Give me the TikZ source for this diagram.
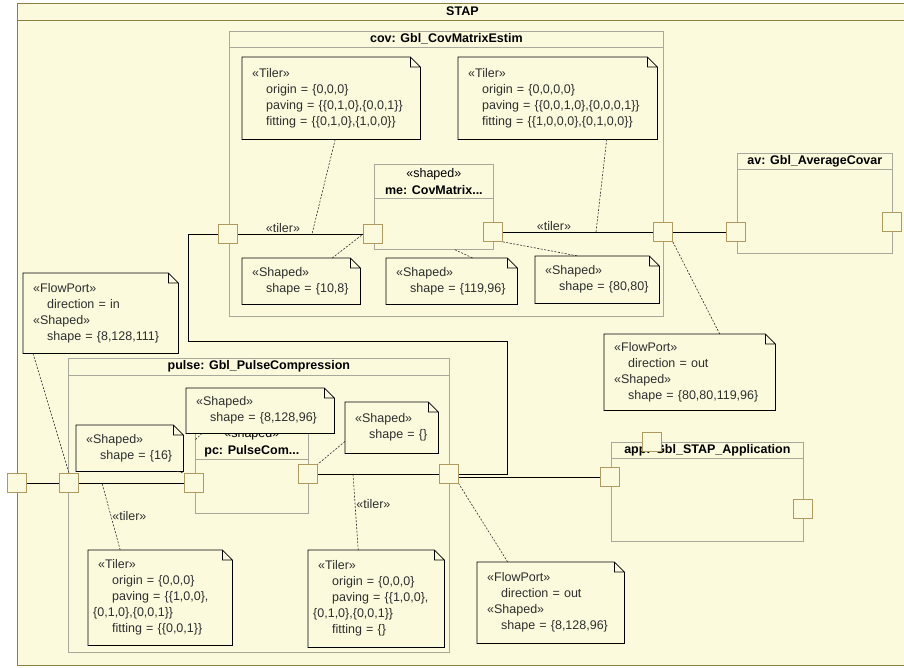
\documentclass[tikz,border=0pt]{standalone}
\usepackage{fontspec}
\setmainfont{Liberation Sans}

\definecolor{StapFill}{HTML}{FCFADD}
\definecolor{StapFrame}{HTML}{8F7F3E}
\definecolor{PartLine}{HTML}{A8A89C}
\definecolor{PortLine}{HTML}{B09A5E}
\definecolor{NoteText}{HTML}{2E2E2E}

\tikzstyle{part}=[rectangle, draw=PartLine, line width=0.7pt, anchor=north west, inner sep=0pt]
\tikzstyle{part-title}=[font=\fontsize{12.5}{16}\selectfont\bfseries, inner sep=0pt]
\tikzstyle{port}=[rectangle, draw=PortLine, fill=StapFill, line width=0.7pt, minimum size=19pt, inner sep=0pt]
\tikzstyle{notebox}=[rectangle, fill=StapFill, anchor=north west, align=left, inner xsep=10pt, inner ysep=0pt, text=NoteText]
\tikzstyle{wire}=[black, line width=0.9pt]
\tikzstyle{anchorline}=[NoteText, line width=0.6pt, dash pattern=on 2pt off 1.5pt]
\tikzstyle{stereo}=[text=NoteText, inner sep=1pt]

\newcommand{\attr}{\hspace*{14pt}}

\begin{document}
\begin{tikzpicture}[x=1pt, y=-1pt, font=\fontsize{12.5}{16}\selectfont]
  \useasboundingbox (0,0) rectangle (904,667);

  % STAP frame
  \node (stap) at (17,3) [part, draw=StapFrame, fill=StapFill, line width=0.8pt, minimum width=890pt, minimum height=662pt] {};
  \node (stap-title) at ([yshift=-8.5pt]stap.north) [part-title] {STAP};
  \draw[StapFrame, line width=0.8pt] ([yshift=-17pt]stap.north west) -- ([yshift=-17pt]stap.north east);

  % parts
  \node (cov) at (229,31) [part, minimum width=434pt, minimum height=285pt] {};
  \node (cov-title) at ([yshift=-8pt]cov.north) [part-title] {cov: Gbl\_CovMatrixEstim};
  \draw[PartLine, line width=0.7pt] ([yshift=-16pt]cov.north west) -- ([yshift=-16pt]cov.north east);

  \node (me) at (374,164) [part, minimum width=119pt, minimum height=85pt] {};
  \node (me-title) at ([yshift=-17.5pt]me.north) [align=center, inner sep=0pt] {«shaped»\\[1pt]\textbf{me: CovMatrix...}};
  \draw[PartLine, line width=0.7pt] ([yshift=-34pt]me.north west) -- ([yshift=-34pt]me.north east);

  \node (av) at (737,153) [part, minimum width=155pt, minimum height=100pt] {};
  \node (av-title) at ([yshift=-8pt]av.north) [part-title] {av: Gbl\_AverageCovar};
  \draw[PartLine, line width=0.7pt] ([yshift=-16pt]av.north west) -- ([yshift=-16pt]av.north east);

  \node (pulse) at (68,358) [part, minimum width=381pt, minimum height=294pt] {};
  \node (pulse-title) at ([yshift=-8.5pt]pulse.north) [part-title] {pulse: Gbl\_PulseCompression};
  \draw[PartLine, line width=0.7pt] ([yshift=-17pt]pulse.north west) -- ([yshift=-17pt]pulse.north east);

  \node (pc) at (195,422) [part, minimum width=113pt, minimum height=91pt] {};
  \node (pc-title) at ([yshift=-20.5pt]pc.north) [align=center, inner sep=0pt] {«shaped»\\[1pt]\textbf{pc: PulseCom...}};
  \draw[PartLine, line width=0.7pt] ([yshift=-37pt]pc.north west) -- ([yshift=-37pt]pc.north east);

  \node (app) at (611,442) [part, minimum width=192pt, minimum height=99pt] {};
  \node (app-title) at ([yshift=-8pt]app.north) [part-title] {app: Gbl\_STAP\_Application};
  \draw[PartLine, line width=0.7pt] ([yshift=-16pt]app.north west) -- ([yshift=-16pt]app.north east);

  % ports
  \node (port-cov-in) at (228,234) [port] {};
  \node (port-me-in) at (373,234) [port] {};
  \node (port-me-out) at (493,232) [port] {};
  \node (port-cov-out) at (663,232) [port] {};
  \node (port-av-in) at (736,232) [port] {};
  \node (port-av-out) at (892,222) [port] {};
  \node (port-stap-in) at (17,483) [port] {};
  \node (port-pulse-in) at (69,483) [port] {};
  \node (port-pc-in) at (194,483) [port] {};
  \node (port-pc-out) at (308,474) [port] {};
  \node (port-pulse-out) at (449,474) [port] {};
  \node (port-app-in) at (610,477) [port] {};
  \node (port-app-top) at (652,442) [port] {};
  \node (port-app-out) at (803,509) [port] {};

  % connectors
  \coordinate (route-se) at (507,474);
  \coordinate (route-nw) at (188,341);
  \draw[wire] (port-stap-in.east) -- (port-pulse-in.west);
  \draw[wire] (port-pulse-in.east) -- (port-pc-in.west);
  \draw[wire] (port-pc-out.east) -- (port-pulse-out.west);
  \draw[wire] (port-pulse-out.east |- port-app-in) -- (port-app-in.west);
  \draw[wire] (port-pulse-out.east) -- (route-se) |- (route-nw) |- (port-cov-in.west);
  \draw[wire] (port-cov-in.east) -- node[stereo, above, pos=0.36] {«tiler»} (port-me-in.west);
  \draw[wire] (port-me-out.east) -- node[stereo, above, pos=0.34] {«tiler»} (port-cov-out.west);
  \draw[wire] (port-cov-out.east) -- (port-av-in.west);

  % notes
  \node (note-tiler-cov-a) at (242,57) [notebox, text width=158pt, minimum height=82pt] {«Tiler»\\\attr origin = \{0,0,0\}\\\attr paving = \{\{0,1,0\},\{0,0,1\}\}\\\attr fitting = \{\{0,1,0\},\{1,0,0\}\}};
  \node (note-tiler-cov-b) at (458,57) [notebox, text width=179pt, minimum height=82pt] {«Tiler»\\\attr origin = \{0,0,0,0\}\\\attr paving = \{\{0,0,1,0\},\{0,0,0,1\}\}\\\attr fitting = \{\{1,0,0,0\},\{0,1,0,0\}\}};
  \node (note-shaped-cov-a) at (242,258) [notebox, text width=98pt, minimum height=46pt] {«Shaped»\\\attr shape = \{10,8\}};
  \node (note-shaped-cov-b) at (386,258) [notebox, text width=111pt, minimum height=46pt] {«Shaped»\\\attr shape = \{119,96\}};
  \node (note-shaped-cov-c) at (535,256) [notebox, text width=104pt, minimum height=47pt] {«Shaped»\\\attr shape = \{80,80\}};
  \node (note-flow-av) at (604,334) [notebox, text width=151pt, minimum height=76pt] {«FlowPort»\\\attr direction = out\\«Shaped»\\\attr shape = \{80,80,119,96\}};
  \node (note-flow-in) at (23,273) [notebox, text width=135pt, minimum height=80pt] {«FlowPort»\\\attr direction = in\\«Shaped»\\\attr shape = \{8,128,111\}};
  \node (note-shaped-pulse-in) at (76,425) [notebox, text width=87pt, minimum height=46pt] {«Shaped»\\\attr shape = \{16\}};
  \node (note-shaped-pc-a) at (186,388) [notebox, text width=128pt, minimum height=45pt] {«Shaped»\\\attr shape = \{8,128,96\}};
  \node (note-shaped-pc-b) at (345,402) [notebox, text width=73pt, minimum height=51pt] {«Shaped»\\\attr shape = \{\}};
  \node (note-tiler-pulse-a) at (88,550) [notebox, text width=124pt, minimum height=95pt] {«Tiler»\\\attr origin = \{0,0,0\}\\\attr paving = \{\{1,0,0\},\\\hspace*{-5pt}\{0,1,0\},\{0,0,1\}\}\\\attr fitting = \{\{0,0,1\}\}};
  \node (note-tiler-pulse-b) at (308,550) [notebox, text width=116pt, minimum height=97pt] {«Tiler»\\\attr origin = \{0,0,0\}\\\attr paving = \{\{1,0,0\},\\\hspace*{-5pt}\{0,1,0\},\{0,0,1\}\}\\\attr fitting = \{\}};
  \node (note-flow-out) at (477,562) [notebox, text width=127pt, minimum height=81pt] {«FlowPort»\\\attr direction = out\\«Shaped»\\\attr shape = \{8,128,96\}};

  \foreach \n in {note-tiler-cov-a, note-tiler-cov-b, note-shaped-cov-a, note-shaped-cov-b, note-shaped-cov-c, note-flow-av, note-flow-in, note-shaped-pulse-in, note-shaped-pc-a, note-shaped-pc-b, note-tiler-pulse-a, note-tiler-pulse-b, note-flow-out}
    \draw[black, line width=0.8pt] (\n.south west) -- (\n.north west) -- ([xshift=-10pt]\n.north east) -- ([yshift=-10pt]\n.north east) -- (\n.south east) -- cycle
      ([xshift=-10pt]\n.north east) -- ([xshift=-10pt, yshift=-10pt]\n.north east) -- ([yshift=-10pt]\n.north east);

  % note anchors
  \coordinate (tip-cov-a) at (312,234);
  \coordinate (tip-cov-b) at (596,232);
  \coordinate (tip-pulse-a) at (102,483);
  \coordinate (tip-pulse-b) at (353,474);
  \draw[anchorline] ([xshift=4pt]note-tiler-cov-a.south) -- (tip-cov-a);
  \draw[anchorline] ([xshift=49pt]note-tiler-cov-b.south) -- (tip-cov-b);
  \draw[anchorline] ([xshift=31pt]note-shaped-cov-a.north) -- (port-me-in.west);
  \draw[anchorline] ([xshift=21pt]me.south) -- ([xshift=21pt]note-shaped-cov-b.north);
  \draw[anchorline] (port-me-out.south east) -- ([xshift=-19pt]note-shaped-cov-c.north);
  \draw[anchorline] (port-cov-out.south east) -- ([xshift=30pt]note-flow-av.north);
  \draw[anchorline] ([xshift=10pt]note-flow-in.south west) -- (port-pulse-in.north);
  \draw[anchorline] ([xshift=-6pt]note-shaped-pulse-in.south east) -- (port-pc-in.north west);
  \draw[anchorline] ([xshift=16pt]note-shaped-pc-a.south west) -- ([yshift=-18pt]pc.north west);
  \draw[anchorline] ([yshift=12pt]note-shaped-pc-b.south west) -- (port-pc-out.north east);
  \draw[anchorline] ([xshift=-40pt]note-tiler-pulse-a.north) -- node[stereo, right, pos=0.5] {«tiler»} (tip-pulse-a);
  \draw[anchorline] ([xshift=-18pt]note-tiler-pulse-b.north) -- node[stereo, right, pos=0.6] {«tiler»} (tip-pulse-b);
  \draw[anchorline] ([xshift=-43pt]note-flow-out.north) -- (port-pulse-out.south east);
\end{tikzpicture}
\end{document}
